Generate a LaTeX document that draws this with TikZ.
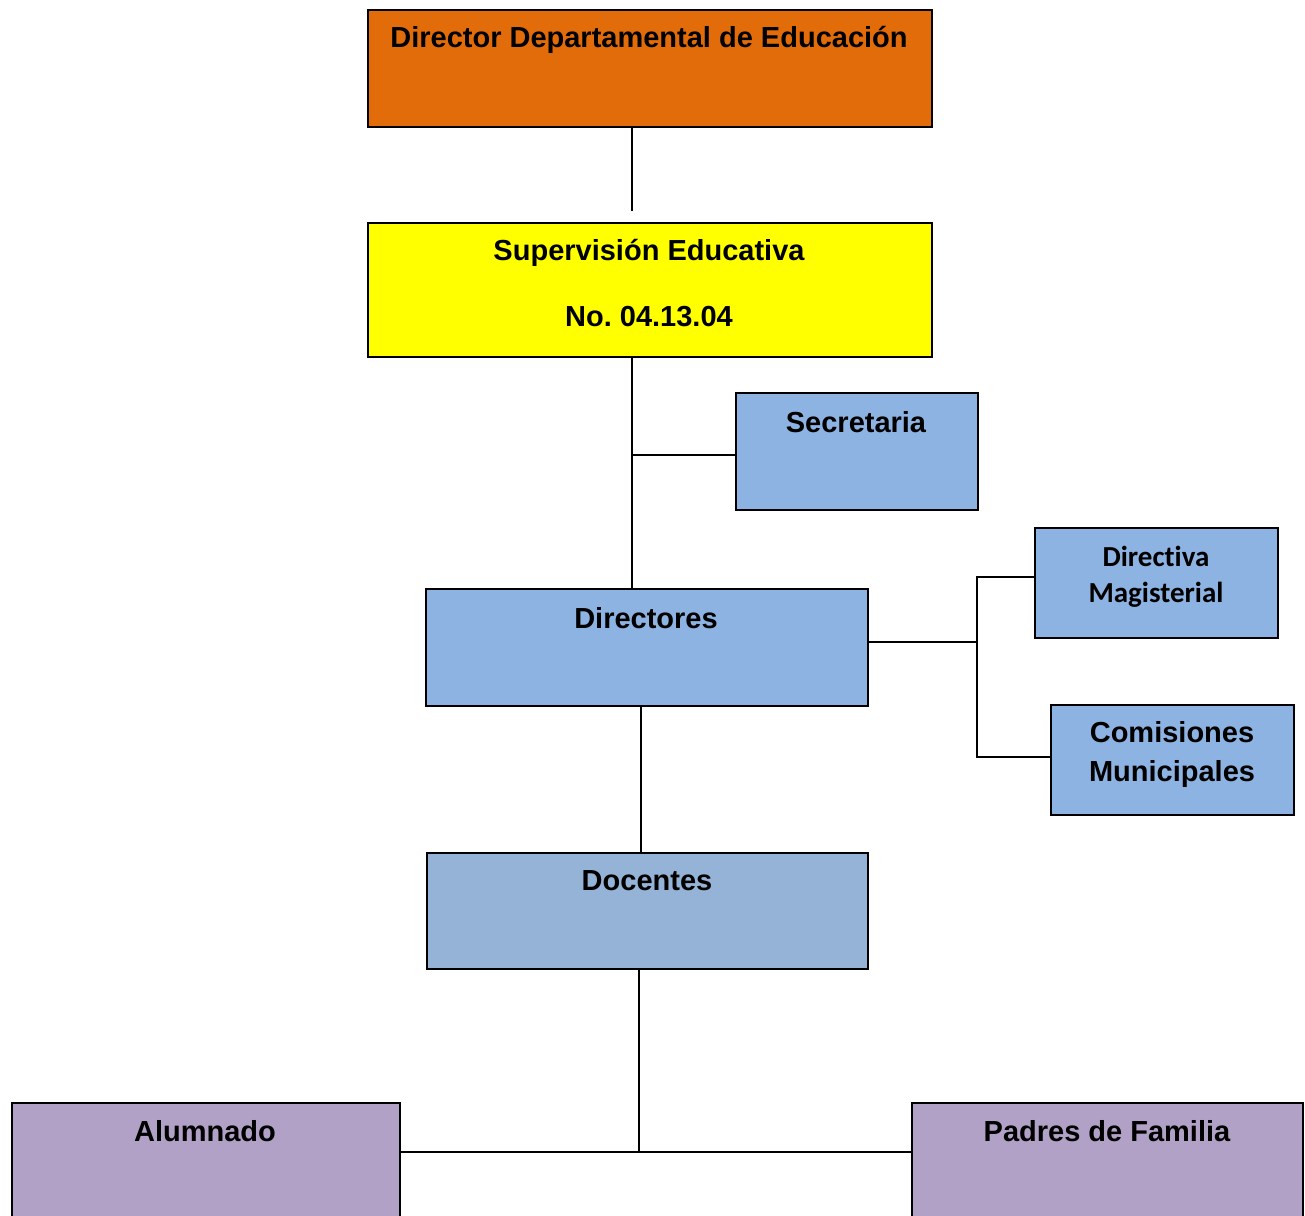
\documentclass[tikz,border=0pt]{standalone}
\usepackage{fontspec}
\newfontfamily\arialb{Liberation Sans}[BoldFont=* Bold]
\newfontfamily\calb{Carlito}[BoldFont=* Bold, Ligatures=NoCommon]
\definecolor{cOrange}{HTML}{E36C0A}
\definecolor{cYellow}{HTML}{FFFF00}
\definecolor{cBlue}{HTML}{8DB3E2}
\definecolor{cBlueB}{HTML}{95B3D7}
\definecolor{cPurple}{HTML}{B2A1C7}
\frenchspacing
\begin{document}
\begin{tikzpicture}[x=1pt,y=-1pt,
  box/.style={draw=black, line width=1.6pt, anchor=north west, inner sep=0pt},
  lbl/.style={anchor=base, inner sep=0pt, font=\arialb\bfseries\fontsize{29}{35}\selectfont},
  lblc/.style={anchor=base, inner sep=0pt, font=\calb\bfseries\fontsize{29}{35}\selectfont},
  conn/.style={line width=1.6pt}]
\useasboundingbox (0,0) rectangle (1305,1215);
% boxes
\node[box, fill=cOrange, minimum width=564pt, minimum height=117pt] (dir) at (367,9) {};
\node[box, fill=cYellow, minimum width=564pt, minimum height=134pt] (sup) at (367,222) {};
\node[box, fill=cBlue, minimum width=242pt, minimum height=117pt] (sec) at (735,392) {};
\node[box, fill=cBlue, minimum width=442pt, minimum height=117pt] (dirs) at (425,588) {};
\node[box, fill=cBlue, minimum width=243pt, minimum height=110pt] (dm) at (1034,527) {};
\node[box, fill=cBlue, minimum width=243pt, minimum height=110pt] (com) at (1050,704) {};
\node[box, fill=cBlueB, minimum width=441pt, minimum height=116pt] (doc) at (426,852) {};
\node[box, fill=cPurple, minimum width=388pt, minimum height=130pt] (alu) at (11,1102) {};
\node[box, fill=cPurple, minimum width=391pt, minimum height=130pt] (pad) at (911,1102) {};
% labels
\node[lbl] (tdir) at (649,48) {Director Departamental de Educación};
\node[lbl] (tsup1) at (649,260) {Supervisión Educativa};
\node[lbl] (tsup2) at (649,326) {No. 04.13.04};
\node[lbl] (tsec) at (856,432) {Secretaria};
\node[lbl] (tdirs) at (646,628) {Directores};
\node[lblc] (tdm1) at (1156,566) {Directiva};
\node[lblc] (tdm2) at (1156,602) {Magisterial};
\node[lbl] (tcom1) at (1172,742) {Comisiones};
\node[lbl] (tcom2) at (1172,781) {Municipales};
\node[lbl] (tdoc) at (647,890) {Docentes};
\node[lbl] (talu) at (205,1141) {Alumnado};
\node[lbl] (tpad) at (1107,1141) {Padres de Familia};
% helper coordinates
\coordinate (xa) at (632,0);
\coordinate (xb) at (977,0);
\coordinate (xc) at (641,0);
\coordinate (jb) at (639,1152);
\coordinate (tdirend) at (632,211);
% connectors
\draw[conn] (dir.south -| xa) -- (tdirend);
\draw[conn] (sup.south -| xa) -- (dirs.north -| xa);
\draw[conn] ([yshift=-3.5pt]sec.west) -- ([yshift=-3.5pt]sec.west -| xa);
\draw[conn] ([yshift=5.5pt]dirs.east) -- ([yshift=5.5pt]dirs.east -| xb);
\draw[conn] ([yshift=6pt]dm.west) -- ([yshift=6pt]dm.west -| xb) -- ([yshift=3pt]com.west -| xb) -- ([yshift=3pt]com.west);
\draw[conn] (dirs.south -| xc) -- (doc.north -| xc);
\draw[conn] (doc.south -| jb) -- (jb);
\draw[conn] (alu.east |- jb) -- (pad.west |- jb);
\end{tikzpicture}
\end{document}
